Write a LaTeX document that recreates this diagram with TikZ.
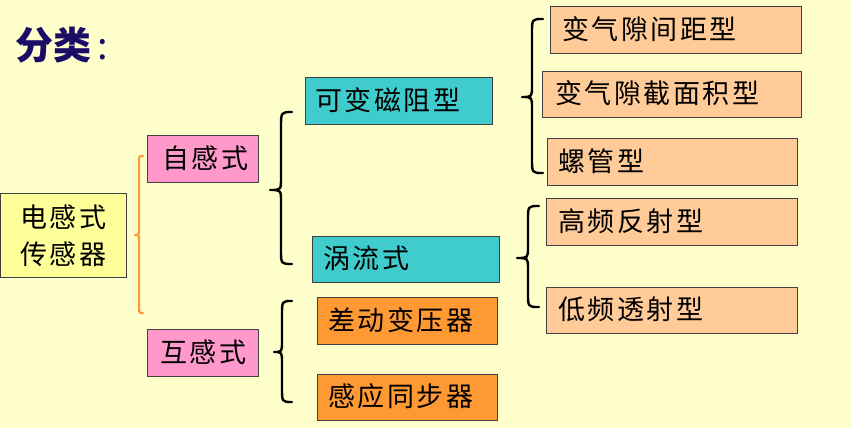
\documentclass[tikz,border=0pt]{standalone}
\usepackage{fontspec}
\newfontfamily\cjk[LetterSpace=9]{Noto Sans CJK SC}
\newfontfamily\cjkt{Noto Sans CJK SC}
\definecolor{bgc}{HTML}{FFFFCC}
\definecolor{yel}{HTML}{FFFF99}
\definecolor{pnk}{HTML}{FF99CC}
\definecolor{tea}{HTML}{40CCCC}
\definecolor{org}{HTML}{FF9933}
\definecolor{pch}{HTML}{FFCC99}
\definecolor{nav}{HTML}{1A0D66}
\definecolor{brc}{HTML}{FF9933}
\tikzset{
  bx/.style={draw=black!75, line width=0.9pt, anchor=north west, inner ysep=0pt,
    align=left, font=\cjk\fontsize{27}{30}\selectfont, text height=22pt, text depth=3pt},
  brace/.style={line width=2.4pt, line cap=round, line join=round},
}
\begin{document}
\begin{tikzpicture}[x=1pt,y=1pt]
\useasboundingbox (0,0) rectangle (851,-428);
\fill[bgc] (0,0) rectangle (851,-428);
\node[anchor=west, text=nav, font=\cjkt\fontsize{38}{40}\selectfont] (title) at (12,-45) {\bfseries 分类\,\mdseries :};
% boxes
\node[bx, fill=yel, inner xsep=0pt, text width=126pt, align=center, minimum height=84pt,
  font=\cjk\fontsize{27}{37}\selectfont, text height=, text depth=] (a) at (0,-193) {电感式\\传感器};
\node[bx, fill=pnk, inner xsep=15pt, text width=81pt, minimum height=47pt] (b) at (147,-135) {自感式};
\node[bx, fill=pnk, inner xsep=13pt, text width=85pt, minimum height=47pt] (c) at (147,-329) {互感式};
\node[bx, fill=tea, inner xsep=10pt, text width=167pt, minimum height=47pt] (d) at (305,-77) {可变磁阻型};
\node[bx, fill=tea, inner xsep=11pt, text width=165pt, minimum height=46pt] (e) at (312,-236) {涡流式};
\node[bx, fill=org, inner xsep=11pt, text width=158pt, minimum height=47pt] (f) at (317,-297) {差动变压器};
\node[bx, fill=org, inner xsep=11pt, text width=158pt, minimum height=46pt] (g) at (317,-374) {感应同步器};
\node[bx, fill=pch, inner xsep=12pt, text width=227pt, minimum height=47pt] (h) at (550,-6) {变气隙间距型};
\node[bx, fill=pch, inner xsep=13pt, text width=233pt, minimum height=46pt] (i) at (542,-71) {变气隙截面积型};
\node[bx, fill=pch, inner xsep=11pt, text width=228pt, minimum height=47pt] (j) at (547,-138) {螺管型};
\node[bx, fill=pch, inner xsep=12pt, text width=227pt, minimum height=47pt] (k) at (546,-198) {高频反射型};
\node[bx, fill=pch, inner xsep=12pt, text width=227pt, minimum height=46pt] (l) at (546,-287) {低频透射型};
% braces
\draw[brace, brc, line width=2.2pt] (143,-156) .. controls (139,-156) .. (139,-162) -- (139,-229)
  .. controls (139,-235) .. (135,-235) .. controls (139,-235) .. (139,-241) -- (139,-307)
  .. controls (139,-313) .. (143,-313);
\draw[brace] (292,-112) .. controls (281,-112) .. (281,-128) -- (281,-178)
  .. controls (281,-190) .. (270,-190) .. controls (281,-190) .. (281,-202) -- (281,-250)
  .. controls (281,-264) .. (292,-264);
\draw[brace] (292,-301) .. controls (282,-301) .. (282,-315) -- (282,-341)
  .. controls (282,-352) .. (274,-352) .. controls (282,-352) .. (282,-363) -- (282,-388)
  .. controls (282,-402) .. (292,-402);
\draw[brace] (543,-19) .. controls (532,-19) .. (532,-33) -- (532,-86)
  .. controls (532,-97) .. (522,-97) .. controls (532,-97) .. (532,-108) -- (532,-159)
  .. controls (532,-173) .. (543,-173);
\draw[brace] (539,-206) .. controls (528,-206) .. (528,-220) -- (528,-247)
  .. controls (528,-258) .. (517,-258) .. controls (528,-258) .. (528,-269) -- (528,-293)
  .. controls (528,-307) .. (539,-307);
\end{tikzpicture}
\end{document}
